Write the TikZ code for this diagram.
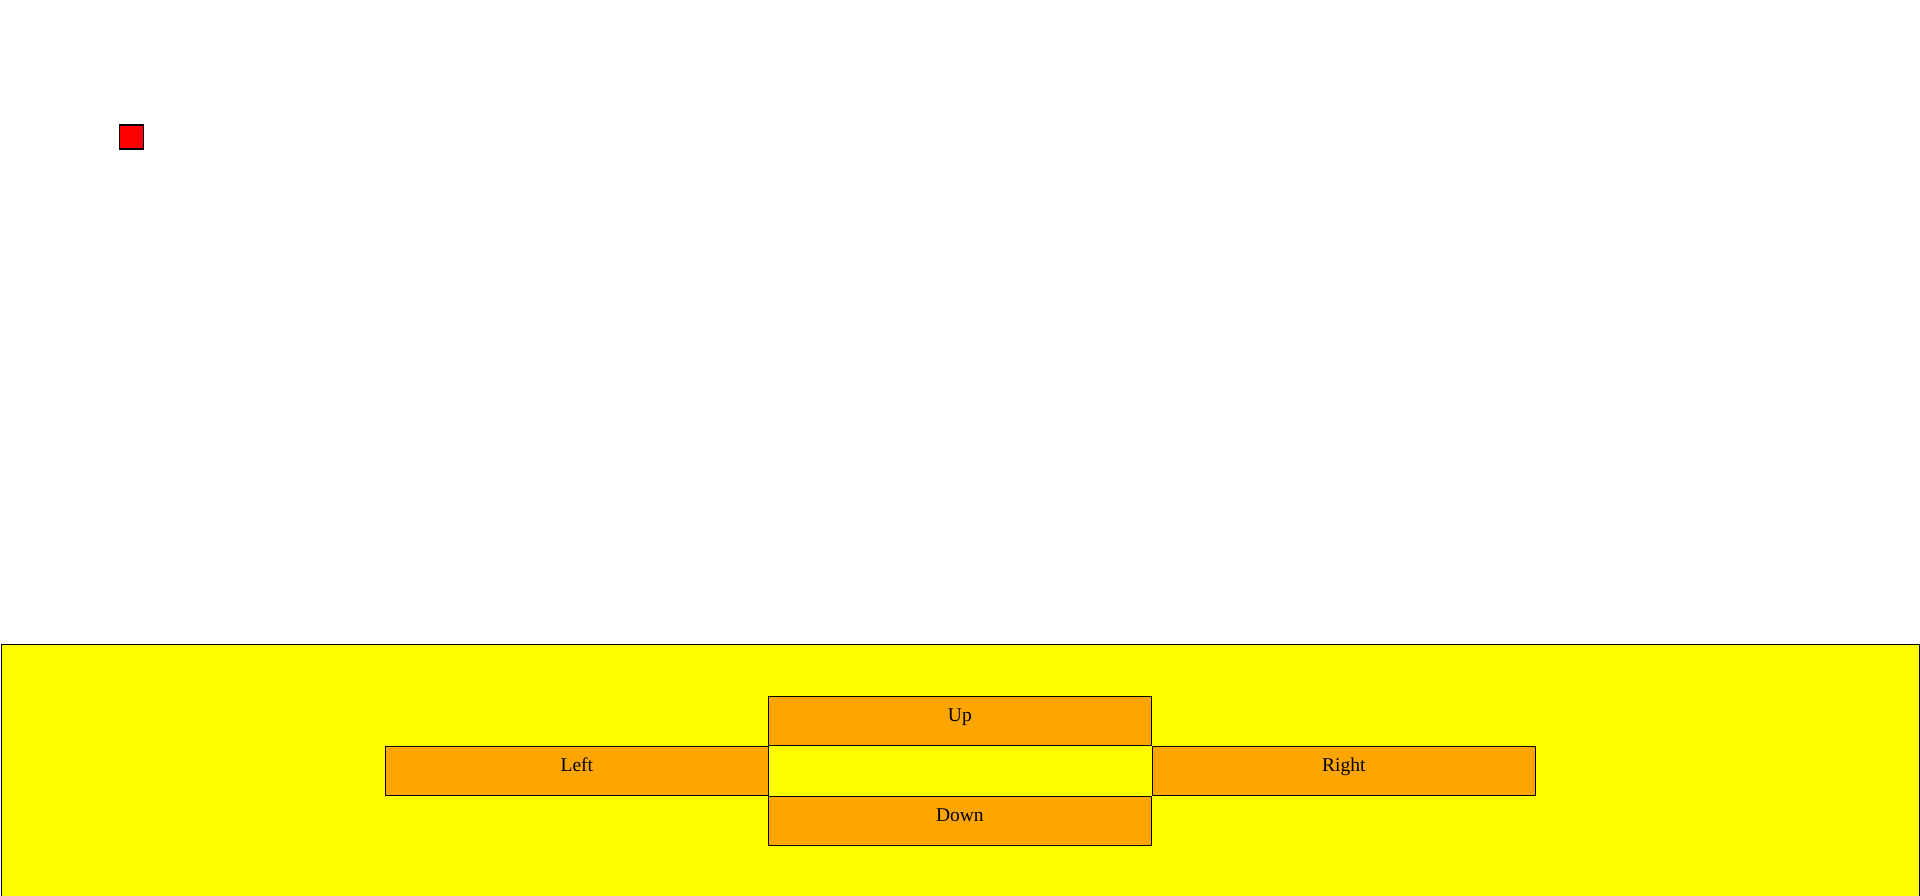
\documentclass[tikz,border=0pt]{standalone}
\usepackage{fontspec}
\setmainfont{Liberation Serif}
\definecolor{panelyellow}{RGB}{255,255,0}
\definecolor{keyorange}{RGB}{255,165,0}
\definecolor{markred}{RGB}{255,0,0}
\begin{document}
\begin{tikzpicture}[x=1pt,y=-1pt,
  panelbox/.style={draw=black,line width=1.1pt,fill=panelyellow,inner sep=0pt,anchor=north west},
  keybox/.style={draw=black,line width=1.1pt,fill=keyorange,inner sep=0pt,
    minimum width=383pt,text height=25pt,text depth=24pt,anchor=north west,
    font=\fontsize{19.5}{23}\selectfont},
  marker/.style={draw=black,line width=1.1pt,fill=markred,inner sep=0pt,minimum width=24pt,minimum height=24pt,anchor=north west}]
\useasboundingbox (0,0) rectangle (1920,896);
\fill[white] (0,0) rectangle (1920,896);
\node[marker] (dot) at (118.5,124.5) {};
\node[panelbox,minimum width=1918.9pt,minimum height=280pt] (panel) at (0.55,643.8) {};
\node[keybox] (up) at (767.8,695.8) {Up};
\node[keybox] (left) at (384.8,745.8) {Left};
\node[keybox] (right) at (1151.8,745.8) {Right};
\node[keybox] (down) at (767.8,795.8) {Down};
\end{tikzpicture}
\end{document}
